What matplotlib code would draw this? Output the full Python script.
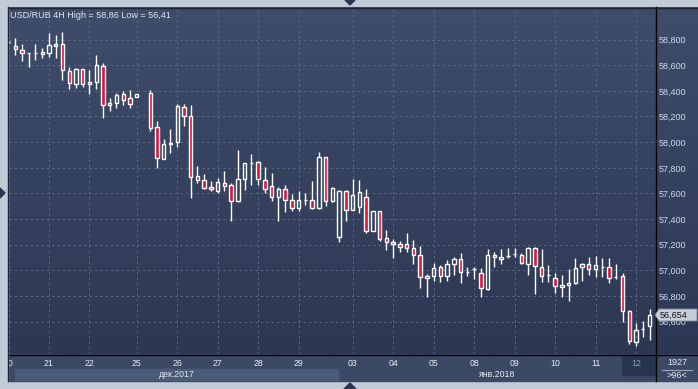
import numpy as np
import matplotlib
matplotlib.use('Agg')
import matplotlib.pyplot as plt
from matplotlib.patches import Rectangle, Polygon

plt.rcParams['font.family'] = ['Liberation Sans', 'DejaVu Sans']

nan = np.nan

# USD/RUB 4H candles, 20 Dec 2017 - 12 Jan 2018 (index 20 has no bar)
opens = [58.780, 58.747, 58.718, 58.697, 58.697, 58.689, 58.692, 58.752, 58.763, 58.557,
         58.456, 58.568, 58.451, 58.466, 58.591, 58.287, 58.303, 58.373, 58.342, 58.350,
         nan, 58.381, 58.116, 57.866, 57.986, 57.999, 58.272, 58.201, 57.734, 57.705,
         57.653, 57.622, 57.679, 57.664, 57.544, 57.710, 57.840, 57.845, 57.705, 57.656,
         57.570, 57.632, 57.547, 57.484, 57.547, 57.547, 57.484, 57.882, 57.544, 57.263,
         57.617, 57.469, 57.497, 57.570, 57.310, 57.463, 57.251, 57.219, 57.204, 57.204,
         57.173, 57.118, 56.943, 56.954, 57.025, 56.954, 57.048, 57.087, 56.986, 57.009,
         56.978, 56.855, 57.118, 57.092, 57.113, 57.126, 57.117, 57.048, 57.173, 57.025,
         56.962, 56.943, 56.869, 56.884, 56.900, 57.025, 57.048, 57.009, 57.029, 57.029,
         56.951, 56.954, 56.684, 56.440, 56.546, 56.565]
highs = [58.785, 58.812, 58.765, 58.697, 58.765, 58.731, 58.853, 58.835, 58.860, 58.588,
         58.580, 58.568, 58.560, 58.679, 58.615, 58.346, 58.381, 58.399, 58.406, 58.373,
         nan, 58.406, 58.165, 58.022, 58.100, 58.297, 58.295, 58.290, 57.814, 57.752,
         57.697, 57.718, 57.777, 57.684, 57.939, 57.837, 57.908, 57.853, 57.804, 57.760,
         57.653, 57.666, 57.596, 57.619, 57.606, 57.697, 57.923, 57.882, 57.653, 57.627,
         57.627, 57.713, 57.705, 57.632, 57.463, 57.463, 57.315, 57.243, 57.230, 57.292,
         57.237, 57.193, 56.972, 57.056, 57.045, 57.081, 57.107, 57.138, 57.025, 57.029,
         57.017, 57.167, 57.141, 57.165, 57.173, 57.173, 57.134, 57.180, 57.185, 57.167,
         57.042, 56.978, 56.962, 57.009, 57.095, 57.056, 57.102, 57.113, 57.095, 57.095,
         57.050, 56.978, 56.692, 56.593, 56.606, 56.700]
lows = [58.775, 58.679, 58.635, 58.586, 58.643, 58.656, 58.661, 58.656, 58.484, 58.417,
        58.424, 58.432, 58.375, 58.417, 58.191, 58.245, 58.264, 58.292, 58.268, 58.350,
        nan, 58.089, 57.801, 57.866, 57.918, 57.965, 58.128, 57.567, 57.679, 57.632,
        57.619, 57.601, 57.619, 57.388, 57.536, 57.627, 57.666, 57.666, 57.601, 57.541,
        57.388, 57.453, 57.463, 57.461, 57.510, 57.481, 57.481, 57.505, 57.536, 57.224,
        57.388, 57.469, 57.445, 57.294, 57.310, 57.230, 57.159, 57.095, 57.146, 57.146,
        57.053, 56.866, 56.795, 56.920, 56.912, 56.920, 56.962, 56.904, 56.957, 56.933,
        56.795, 56.850, 57.025, 57.048, 57.095, 57.107, 57.047, 56.967, 56.819, 56.912,
        56.912, 56.822, 56.795, 56.764, 56.894, 56.920, 56.965, 56.947, 56.951, 56.904,
        56.931, 56.601, 56.424, 56.410, 56.481, 56.458]
closes = [58.780, 58.724, 58.692, 58.697, 58.697, 58.705, 58.755, 58.763, 58.560, 58.459,
          58.570, 58.451, 58.466, 58.599, 58.287, 58.303, 58.365, 58.331, 58.300, 58.373,
          nan, 58.113, 57.874, 57.983, 57.996, 58.282, 58.201, 57.731, 57.703, 57.645,
          57.632, 57.687, 57.656, 57.544, 57.710, 57.837, 57.840, 57.710, 57.637, 57.575,
          57.632, 57.547, 57.484, 57.547, 57.547, 57.484, 57.882, 57.544, 57.640, 57.617,
          57.469, 57.586, 57.611, 57.310, 57.463, 57.247, 57.219, 57.204, 57.180, 57.173,
          57.118, 56.951, 56.957, 57.017, 56.954, 57.048, 57.087, 56.986, 56.986, 57.009,
          56.861, 57.118, 57.102, 57.107, 57.113, 57.126, 57.056, 57.173, 57.032, 56.959,
          56.962, 56.876, 56.884, 56.900, 57.017, 57.048, 57.009, 57.042, 57.029, 56.943,
          56.951, 56.682, 56.448, 56.536, 56.546, 56.654]

day_idx = [0, 6, 12, 19, 25, 31, 37, 43, 51, 57, 63, 69, 75, 81, 87, 93]
day_labels = ['20', '21', '22', '25', '26', '27', '28', '29', '03', '04',
              '05', '08', '09', '10', '11', '12']
price_ticks = [56.6, 56.8, 57.0, 57.2, 57.4, 57.6, 57.8, 58.0, 58.2, 58.4, 58.6, 58.8]
last_price = 56.654

o = np.array(opens); h = np.array(highs); l = np.array(lows); c = np.array(closes)
x = np.arange(len(o))
top = np.maximum(o, c)
bot = np.minimum(o, c)
down = c < o

W, H = 698, 389
fig = plt.figure(figsize=(W / 100, H / 100), dpi=100)

# background panels in pixel coordinates
bg = fig.add_axes([0, 0, 1, 1], zorder=0)
bg.set_axis_off()
bg.add_patch(Rectangle((0, 0), W, H, color='#c2cbd8', zorder=0))
grad = np.linspace(0, 1, 256)[:, None]
cmap = matplotlib.colors.LinearSegmentedColormap.from_list('bgc', ['#3f4d6a', '#2c3753'])
bg.imshow(grad, cmap=cmap, extent=(8, W, 354, 7), aspect='auto', origin='upper', zorder=1)
bg.add_patch(Rectangle((8, 354), W - 8, 27, color='#3c4964', zorder=2))
bg.add_patch(Rectangle((15, 369), 323, 11, color='#4b5a76', zorder=2))
bg.add_patch(Rectangle((622, 355), 33, 20, color='#29344e', zorder=2))
bg.plot([655.5, 655.5], [7, 381], color='black', lw=1, zorder=3)
bg.plot([8, W], [354.5, 354.5], color='black', lw=1, zorder=3)
bg.plot([8, W], [7.5, 7.5], color='#1d2436', lw=1, zorder=3)
bg.plot([662, 692], [369.5, 369.5], color='#9aa8c0', lw=0.8, zorder=3)
bg.set_xlim(0, W)
bg.set_ylim(H, 0)

# main chart
ax = fig.add_axes([8.5 / W, 35 / H, 646.5 / W, 346 / H], zorder=1)
ax.patch.set_visible(False)
for s in ax.spines.values():
    s.set_visible(False)

ax.vlines(x, top, h, color='white', lw=1.0, zorder=3)
ax.vlines(x, l, bot, color='white', lw=1.0, zorder=3)
ax.bar(x[down], (o - c)[down], bottom=c[down], width=0.5,
       color='#e0103a', edgecolor='white', linewidth=1.0, zorder=4)
ax.bar(x[~down], (c - o)[~down], bottom=o[~down], width=0.5,
       facecolor='none', edgecolor='white', linewidth=1.0, zorder=4)

ax.set_xlim(0.1, 95.81)
ax.set_ylim(56.349, 59.0455)

ax.yaxis.tick_right()
ax.set_yticks(price_ticks)
ax.set_yticklabels([('%.3f' % p).replace('.', ',') for p in price_ticks])
ax.set_xticks(day_idx)
ax.set_xticklabels(day_labels)
ax.tick_params(axis='y', length=0, pad=2.5, labelsize=6.5, labelcolor='#cdd9ee')
ax.tick_params(axis='x', length=0, pad=3.5, labelsize=6.3, labelcolor='#e6ebf3')
ax.get_xticklabels()[-1].set_color('#8e9ab0')
ax.grid(True, color='#5a6885', ls=(0, (2.5, 3)), lw=0.7)
ax.set_axisbelow(True)

# overlay: frame edge, price tag, small markers
ov = fig.add_axes([0, 0, 1, 1], zorder=3)
ov.set_axis_off()
ov.patch.set_visible(False)
ov.add_patch(Rectangle((0, 0), 8, H, color='#c2cbd8'))
ov.plot([8, 8], [7, 381], color='#1d2436', lw=1)
ov.add_patch(Polygon([(655, 315), (659, 309), (697, 309), (697, 321), (659, 321)],
                     closed=True, fc='#c6cdd8', ec='#7d8aa0', lw=0.6))
ov.text(660, 315.5, ('%.3f' % last_price).replace('.', ','), fontsize=6.5,
        color='#151515', va='center', ha='left')
ov.add_patch(Polygon([(345, 0), (355, 0), (350, 5)], closed=True, color='#2b3550'))
ov.add_patch(Polygon([(344, 389), (356, 389), (350, 383)], closed=True, color='#2b3550'))
ov.add_patch(Polygon([(0, 188), (0, 198), (5, 193)], closed=True, color='#2b3550'))
ov.text(10, 15, 'USD/RUB 4H High = 58,86 Low = 56,41', fontsize=6.5,
        color='#dde5f2', va='center', ha='left')
ov.text(177, 374.5, 'дек.2017', fontsize=6.3, color='#e6ebf3', va='center', ha='center')
ov.text(497, 374.5, 'янв.2018', fontsize=6.3, color='#e6ebf3', va='center', ha='center')
ov.text(677, 362.5, '1927', fontsize=6.5, color='#e6ebf3', va='center', ha='center')
ov.text(677, 375.5, '>96<', fontsize=6.5, color='#e6ebf3', va='center', ha='center')
ov.set_xlim(0, W)
ov.set_ylim(H, 0)

fig.savefig('out.png', dpi=100)
